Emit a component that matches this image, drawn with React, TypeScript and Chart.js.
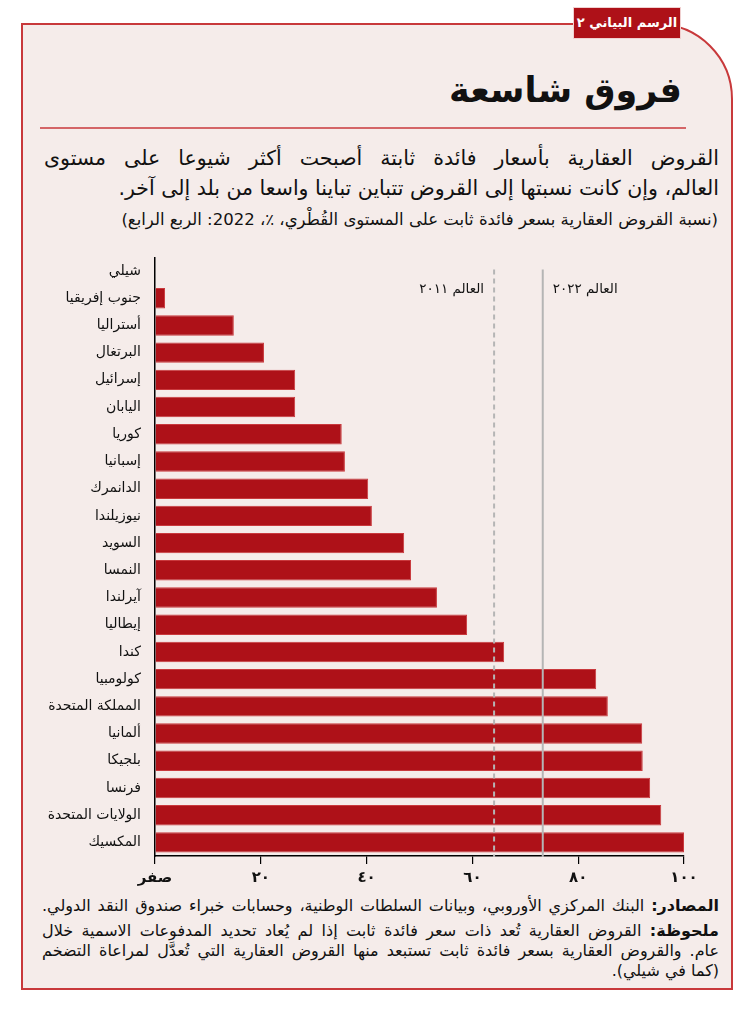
import React, { useEffect, useRef } from "react";
import { Chart, registerables } from "chart.js";

Chart.register(...registerables);

const countries = [
  "شيلي",
  "جنوب إفريقيا",
  "أستراليا",
  "البرتغال",
  "إسرائيل",
  "اليابان",
  "كوريا",
  "إسبانيا",
  "الدانمرك",
  "نيوزيلندا",
  "السويد",
  "النمسا",
  "آيرلندا",
  "إيطاليا",
  "كندا",
  "كولومبيا",
  "المملكة المتحدة",
  "ألمانيا",
  "بلجيكا",
  "فرنسا",
  "الولايات المتحدة",
  "المكسيك",
];

const shares = [
  0, 1.9, 14.9, 20.6, 26.5, 26.5, 35.3, 35.9, 40.3, 41.0, 47.1, 48.4, 53.3,
  59.0, 66.0, 83.4, 85.6, 92.1, 92.2, 93.6, 95.7, 100,
];

const tickValues = [0, 20, 40, 60, 80, 100];
const tickLabels = ["صفر", "٢٠", "٤٠", "٦٠", "٨٠", "١٠٠"];

const world2011 = 64.1;
const world2022 = 73.3;
const world2011Label = "العالم ٢٠١١";
const world2022Label = "العالم ٢٠٢٢";

const FONT = "'DejaVu Sans', sans-serif";

const refLinesPlugin = {
  id: "refLines",
  afterDatasetsDraw(chart: any) {
    const { ctx, chartArea, scales } = chart;
    const x11 = scales.x.getPixelForValue(world2011);
    const x22 = scales.x.getPixelForValue(world2022);
    const top = chartArea.top + 12;
    const bottom = chartArea.bottom + 1;
    ctx.save();
    ctx.strokeStyle = "#b5b5b5";
    ctx.lineWidth = 2;
    ctx.setLineDash([5, 4]);
    ctx.beginPath();
    ctx.moveTo(x11, top);
    ctx.lineTo(x11, bottom);
    ctx.stroke();
    ctx.setLineDash([]);
    ctx.beginPath();
    ctx.moveTo(x22, top);
    ctx.lineTo(x22, bottom);
    ctx.stroke();
    ctx.fillStyle = "#111";
    ctx.font = `13.5px ${FONT}`;
    ctx.textBaseline = "middle";
    const ly = chartArea.top + 32;
    ctx.direction = "rtl";
    ctx.textAlign = "right";
    ctx.fillText(world2011Label, x11 - 10, ly);
    ctx.textAlign = "left";
    ctx.fillText(world2022Label, x22 + 10, ly);
    ctx.restore();
  },
};

function BarChart() {
  const ref = useRef<HTMLCanvasElement>(null);
  useEffect(() => {
    if (!ref.current) return;
    const chart = new Chart(ref.current, {
      type: "bar",
      data: {
        labels: countries,
        datasets: [
          {
            data: shares,
            backgroundColor: "#ae1118",
            borderColor: "#c9393d",
            borderWidth: 1,
            barPercentage: 0.75,
            categoryPercentage: 1,
          },
        ],
      },
      options: {
        indexAxis: "y",
        animation: false,
        responsive: false,
        maintainAspectRatio: false,
        layout: { padding: { top: 10, right: 48, left: 0, bottom: 0 } },
        plugins: { legend: { display: false }, tooltip: { enabled: false } },
        scales: {
          x: {
            min: 0,
            max: 100,
            afterBuildTicks: (s: any) => {
              s.ticks = tickValues.map((v) => ({ value: v }));
            },
            afterFit: (s: any) => {
              s.height = 39;
            },
            grid: {
              display: true,
              drawOnChartArea: false,
              drawTicks: true,
              tickLength: 8,
              color: "#000",
              lineWidth: 1.2,
            },
            border: { display: true, color: "#000", width: 1.5 },
            ticks: {
              padding: 5,
              color: "#111",
              font: { family: FONT, size: 15, weight: "bold" },
              callback: (v: any) => {
                const i = tickValues.indexOf(Number(v));
                return i >= 0 ? tickLabels[i] : "";
              },
              maxRotation: 0,
            },
          },
          y: {
            afterFit: (s: any) => {
              s.width = 133;
            },
            grid: { display: false, drawTicks: false },
            border: { display: true, color: "#000", width: 1.5 },
            ticks: {
              autoSkip: false,
              padding: 14,
              color: "#111",
              font: { family: FONT, size: 14 },
            },
          },
        },
      },
      plugins: [refLinesPlugin],
    });
    return () => chart.destroy();
  }, []);
  return (
    <canvas
      ref={ref}
      width={710}
      height={660}
      style={{ position: "absolute", left: 22, top: 235, width: 710, height: 660 }}
    />
  );
}

const lineStyle: React.CSSProperties = {
  whiteSpace: "nowrap",
  textAlign: "justify",
  textAlignLast: "justify",
};

export default function App() {
  const frameColor = "#c8393b";
  return (
    <div
      style={{
        position: "absolute",
        left: 0,
        top: 0,
        width: 750,
        height: 1013,
        background: "#fff",
        fontFamily: FONT,
        overflow: "hidden",
      }}
    >
      <svg
        width={750}
        height={1013}
        style={{ position: "absolute", left: 0, top: 0 }}
      >
        <path
          d="M 22 989 L 22 24 L 657 24 A 75 75 0 0 1 732 99 L 732 989 Z"
          fill="#f5ecea"
          stroke={frameColor}
          strokeWidth={2}
        />
        <line x1={40} y1={128} x2={686} y2={128} stroke={frameColor} strokeWidth={1.5} />
      </svg>
      <div
        style={{
          position: "absolute",
          left: 573,
          top: 7,
          width: 108,
          height: 32,
          background: "#ae1118",
          border: "1px solid #f0d0d0",
          boxSizing: "border-box",
          color: "#fff",
          fontWeight: "bold",
          fontSize: 13,
          direction: "rtl",
          textAlign: "center",
          lineHeight: "30px",
        }}
      >
        الرسم البياني ٢
      </div>
      <div
        style={{
          position: "absolute",
          right: 68,
          top: 62,
          fontSize: 35,
          fontWeight: "bold",
          color: "#111",
          direction: "rtl",
          lineHeight: "56px",
        }}
      >
        فروق شاسعة
      </div>
      <div
        style={{
          position: "absolute",
          left: 44,
          top: 143,
          width: 675,
          fontSize: 20.5,
          color: "#111",
          direction: "rtl",
          lineHeight: "30px",
        }}
      >
        <div style={lineStyle}>
          القروض العقارية بأسعار فائدة ثابتة أصبحت أكثر شيوعا على مستوى
        </div>
        <div style={{ whiteSpace: "nowrap", textAlign: "right" }}>
          العالم، وإن كانت نسبتها إلى القروض تتباين تباينا واسعا من بلد إلى آخر.
        </div>
      </div>
      <div
        style={{
          position: "absolute",
          right: 32,
          top: 209,
          fontSize: 16.5,
          color: "#111",
          direction: "rtl",
          lineHeight: "22px",
          whiteSpace: "nowrap",
        }}
      >
        (نسبة القروض العقارية بسعر فائدة ثابت على المستوى القُطْري، ٪، 2022: الربع الرابع)
      </div>
      <BarChart />
      <div
        style={{
          position: "absolute",
          left: 42,
          top: 896,
          width: 677,
          fontSize: 16,
          color: "#111",
          direction: "rtl",
          lineHeight: "20px",
        }}
      >
        <div style={lineStyle}>
          <b>المصادر:</b> البنك المركزي الأوروبي، وبيانات السلطات الوطنية، وحسابات خبراء صندوق النقد الدولي.
        </div>
        <div style={{ ...lineStyle, marginTop: 5 }}>
          <b>ملحوظة:</b> القروض العقارية تُعد ذات سعر فائدة ثابت إذا لم يُعاد تحديد المدفوعات الاسمية خلال
        </div>
        <div style={lineStyle}>
          عام. والقروض العقارية بسعر فائدة ثابت تستبعد منها القروض العقارية التي تُعدَّل لمراعاة التضخم
        </div>
        <div style={{ whiteSpace: "nowrap", textAlign: "right" }}>(كما في شيلي).</div>
      </div>
    </div>
  );
}
